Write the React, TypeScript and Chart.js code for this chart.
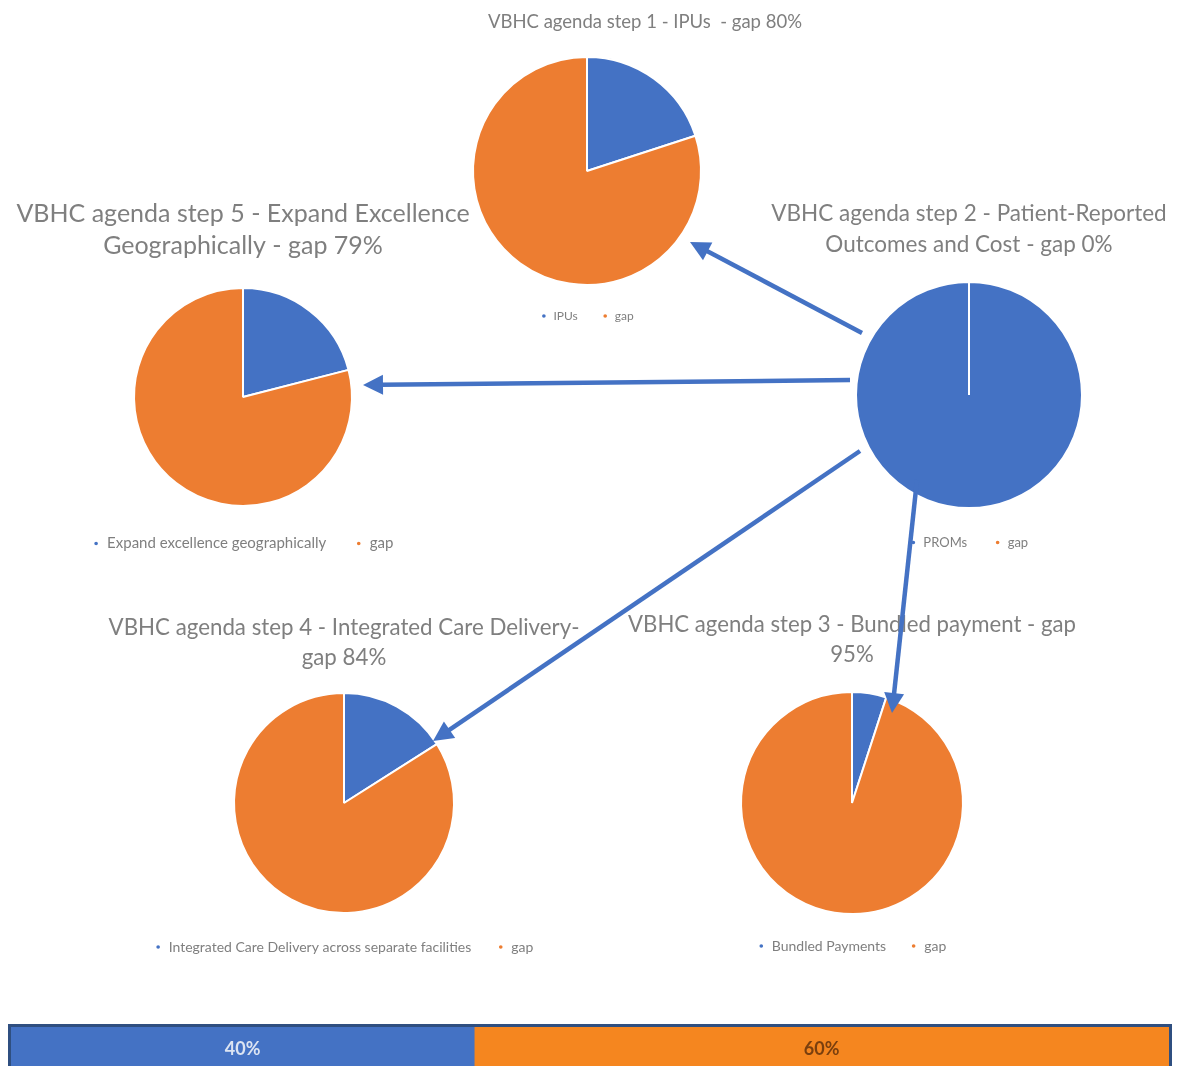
import React, { useEffect, useRef } from "react";
import { Chart, registerables } from "chart.js";

Chart.register(...registerables);

const BLUE = "#4472C4";
const ORANGE = "#ED7D31";
const TEXT_GREY = "#7F7F7F";
const FONT = "Lato, 'Open Sans', sans-serif";

// ---- data ----
const step1Title = ["VBHC agenda step 1 - IPUs  - gap 80%"];
const step1Labels = ["IPUs", "gap"];
const step1Values = [20, 80];

const step2Title = ["VBHC agenda step 2 - Patient-Reported", "Outcomes and Cost - gap 0%"];
const step2Labels = ["PROMs", "gap"];
const step2Values = [100, 0];

const step3Title = ["VBHC agenda step 3 - Bundled payment - gap", "95%"];
const step3Labels = ["Bundled Payments", "gap"];
const step3Values = [5, 95];

const step4Title = ["VBHC agenda step 4 - Integrated Care Delivery-", "gap 84%"];
const step4Labels = ["Integrated Care Delivery across separate facilities", "gap"];
const step4Values = [16, 84];

const step5Title = ["VBHC agenda step 5 - Expand Excellence", "Geographically - gap 79%"];
const step5Labels = ["Expand excellence geographically", "gap"];
const step5Values = [21, 79];

const progressLabels = ["progress"];
const progressDone = [40];
const progressGap = [60];

type PieProps = {
  title: string[];
  labels: string[];
  values: number[];
  left: number;
  top: number;
  width: number;
  height: number;
  titleSize: number;
  titleLH: number;
  titlePadBottom: number;
  titleAlign?: "start" | "center" | "end";
  legendSize: number;
  legendPadding: number;
};

function PieChart(p: PieProps) {
  const ref = useRef<HTMLCanvasElement>(null);
  useEffect(() => {
    if (!ref.current) return;
    const chart = new Chart(ref.current, {
      type: "pie",
      data: {
        labels: p.labels,
        datasets: [
          {
            data: p.values,
            backgroundColor: [BLUE, ORANGE],
            borderColor: "#ffffff",
            borderWidth: 2,
          },
        ],
      },
      options: {
        responsive: false,
        animation: false,
        layout: { padding: 0 },
        plugins: {
          tooltip: { enabled: false },
          title: {
            display: true,
            text: p.title,
            color: TEXT_GREY,
            align: p.titleAlign || "center",
            font: { family: FONT, size: p.titleSize, weight: "normal", lineHeight: p.titleLH / p.titleSize },
            padding: { top: 0, bottom: p.titlePadBottom },
          },
          legend: {
            display: true,
            position: "bottom",
            labels: {
              usePointStyle: true,
              pointStyle: "circle",
              boxWidth: 7,
              boxHeight: 4,
              padding: p.legendPadding,
              color: TEXT_GREY,
              font: { family: FONT, size: p.legendSize },
            },
          },
        },
      },
    });
    return () => chart.destroy();
  }, []);
  return (
    <canvas
      ref={ref}
      width={p.width}
      height={p.height}
      style={{ position: "absolute", left: p.left, top: p.top, width: p.width, height: p.height }}
    />
  );
}

const barLabelPlugin = {
  id: "barLabels",
  afterDatasetsDraw(chart: any) {
    const ctx = chart.ctx;
    ctx.save();
    ctx.textAlign = "center";
    ctx.textBaseline = "middle";
    ctx.font = `bold 18px ${FONT}`;
    chart.data.datasets.forEach((ds: any, i: number) => {
      const meta = chart.getDatasetMeta(i);
      meta.data.forEach((el: any, j: number) => {
        const { x, base, y } = el.getProps(["x", "base", "y"], true);
        ctx.fillStyle = ds.labelColor;
        ctx.fillText(`${ds.data[j]}%`, (x + base) / 2, y + 1);
      });
    });
    ctx.restore();
  },
};

function ProgressBar() {
  const ref = useRef<HTMLCanvasElement>(null);
  useEffect(() => {
    if (!ref.current) return;
    const chart = new Chart(ref.current, {
      type: "bar",
      data: {
        labels: progressLabels,
        datasets: [
          { data: progressDone, backgroundColor: BLUE, borderWidth: 0, barPercentage: 1, categoryPercentage: 1, labelColor: "#DCE4F2" } as any,
          { data: progressGap, backgroundColor: "#F5861F", borderWidth: 0, barPercentage: 1, categoryPercentage: 1, labelColor: "#7A3F0E" } as any,
        ],
      },
      options: {
        indexAxis: "y",
        responsive: false,
        animation: false,
        layout: { padding: 0 },
        scales: {
          x: { stacked: true, min: 0, max: 100, display: false },
          y: { stacked: true, display: false },
        },
        plugins: { legend: { display: false }, tooltip: { enabled: false } },
      },
      plugins: [barLabelPlugin],
    });
    return () => chart.destroy();
  }, []);
  return (
    <div
      style={{
        position: "absolute",
        left: 8,
        top: 1024,
        width: 1158,
        height: 42,
        border: "3px solid #2F4F80",
      }}
    >
      <canvas ref={ref} width={1158} height={42} style={{ display: "block", width: 1158, height: 42 }} />
    </div>
  );
}

const ARROWS = [
  { x1: 862, y1: 333, x2: 690, y2: 242 },
  { x1: 850, y1: 380, x2: 363, y2: 385 },
  { x1: 860, y1: 451, x2: 433, y2: 741 },
  { x1: 917, y1: 480, x2: 892, y2: 713 },
];

function Arrows() {
  const headLen = 20;
  const headHalf = 10;
  return (
    <svg
      width={1177}
      height={1066}
      style={{ position: "absolute", left: 0, top: 0, pointerEvents: "none" }}
    >
      {ARROWS.map((a, i) => {
        const dx = a.x2 - a.x1;
        const dy = a.y2 - a.y1;
        const len = Math.hypot(dx, dy);
        const ux = dx / len;
        const uy = dy / len;
        const bx = a.x2 - ux * headLen;
        const by = a.y2 - uy * headLen;
        const px = -uy;
        const py = ux;
        const pts = `${a.x2},${a.y2} ${bx + px * headHalf},${by + py * headHalf} ${bx - px * headHalf},${by - py * headHalf}`;
        return (
          <g key={i}>
            <line x1={a.x1} y1={a.y1} x2={bx + ux * 2} y2={by + uy * 2} stroke={BLUE} strokeWidth={4.5} />
            <polygon points={pts} fill={BLUE} />
          </g>
        );
      })}
    </svg>
  );
}

export default function App() {
  return (
    <div
      style={{
        position: "absolute",
        left: 0,
        top: 0,
        width: 1177,
        height: 1066,
        background: "#ffffff",
        overflow: "hidden",
      }}
    >
      <PieChart
        title={step1Title}
        labels={step1Labels}
        values={step1Values}
        left={372}
        top={11}
        width={430}
        height={321}
        titleSize={18.5}
        titleLH={22}
        titlePadBottom={23}
        titleAlign="end"
        legendSize={12}
        legendPadding={24}
      />
      <PieChart
        title={step2Title}
        labels={step2Labels}
        values={step2Values}
        left={764}
        top={198}
        width={410}
        height={361}
        titleSize={22.5}
        titleLH={31}
        titlePadBottom={21}
        legendSize={13}
        legendPadding={27}
      />
      <PieChart
        title={step5Title}
        labels={step5Labels}
        values={step5Values}
        left={8}
        top={198}
        width={470}
        height={363}
        titleSize={25}
        titleLH={32}
        titlePadBottom={25}
        legendSize={15}
        legendPadding={29}
      />
      <PieChart
        title={step4Title}
        labels={step4Labels}
        values={step4Values}
        left={96}
        top={613}
        width={496}
        height={351}
        titleSize={22.3}
        titleLH={30}
        titlePadBottom={19}
        legendSize={14}
        legendPadding={26}
      />
      <PieChart
        title={step3Title}
        labels={step3Labels}
        values={step3Values}
        left={618}
        top={610}
        width={468}
        height={353}
        titleSize={22.2}
        titleLH={30}
        titlePadBottom={21}
        legendSize={14}
        legendPadding={24}
      />
      <ProgressBar />
      <Arrows />
    </div>
  );
}
